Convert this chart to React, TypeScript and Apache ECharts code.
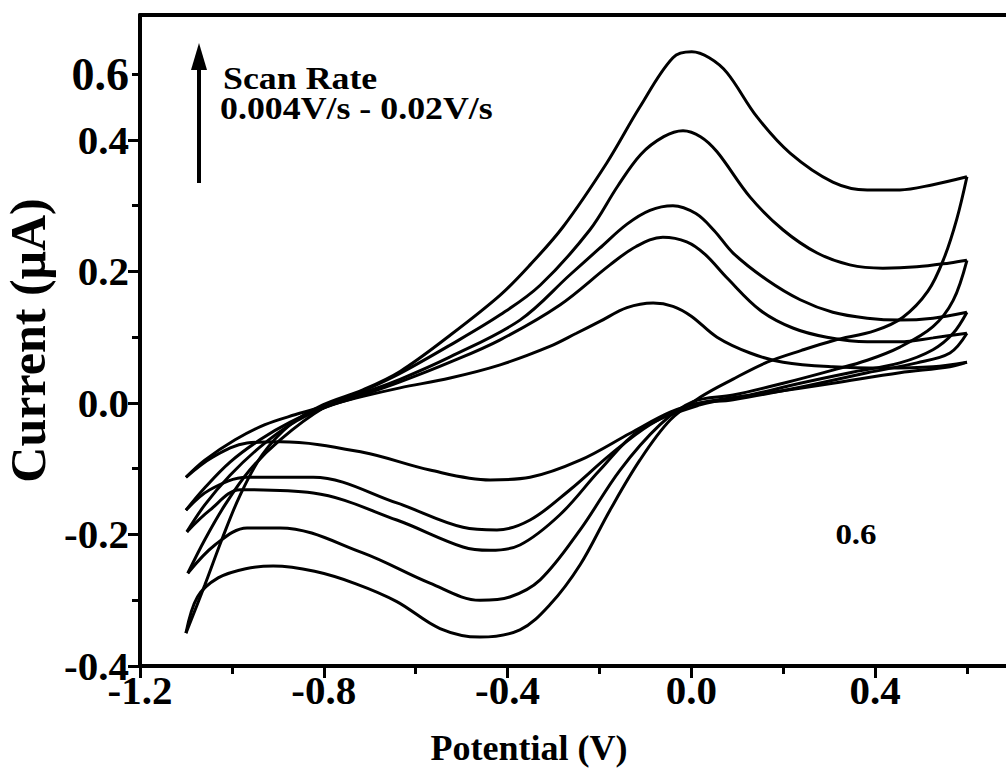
import React, { useEffect, useRef } from "react";
import * as echarts from "echarts";

// Scan rates (0.004 V/s ... 0.02 V/s), smallest loop first
const scanNames = ["scan 1", "scan 2", "scan 3", "scan 4", "scan 5"];

// forward (anodic) branches, potential (V) vs current (µA)
const fwd1 = [[-1.10,-0.113],[-1.059,-0.087],[-0.993,-0.056],[-0.928,-0.033],[-0.863,-0.018],[-0.802,-0.006],[-0.715,0.010],[-0.634,0.023],[-0.525,0.038],[-0.416,0.058],[-0.308,0.086],[-0.25,0.106],[-0.199,0.124],[-0.14,0.145],[-0.083,0.152],[-0.04,0.147],[0.0,0.132],[0.056,0.100],[0.128,0.076],[0.200,0.062],[0.308,0.055],[0.417,0.053],[0.526,0.055],[0.600,0.062]];
const fwd2 = [[-1.10,-0.163],[-1.059,-0.129],[-1.004,-0.090],[-0.939,-0.056],[-0.873,-0.029],[-0.802,-0.008],[-0.715,0.012],[-0.634,0.032],[-0.525,0.062],[-0.416,0.096],[-0.286,0.149],[-0.177,0.210],[-0.12,0.238],[-0.062,0.252],[-0.01,0.245],[0.03,0.226],[0.078,0.190],[0.150,0.141],[0.221,0.114],[0.295,0.100],[0.383,0.093],[0.454,0.093],[0.526,0.099],[0.600,0.106]];
const fwd3 = [[-1.098,-0.196],[-1.059,-0.155],[-1.004,-0.110],[-0.939,-0.067],[-0.873,-0.033],[-0.802,-0.008],[-0.715,0.015],[-0.634,0.036],[-0.525,0.070],[-0.373,0.126],[-0.264,0.195],[-0.20,0.235],[-0.14,0.272],[-0.09,0.293],[-0.040,0.300],[0.01,0.288],[0.05,0.262],[0.091,0.228],[0.165,0.187],[0.237,0.157],[0.308,0.138],[0.383,0.129],[0.454,0.126],[0.526,0.129],[0.600,0.138]];
const fwd4 = [[-1.096,-0.259],[-1.059,-0.208],[-1.015,-0.155],[-0.961,-0.102],[-0.895,-0.056],[-0.802,-0.008],[-0.715,0.018],[-0.634,0.045],[-0.525,0.088],[-0.416,0.134],[-0.329,0.179],[-0.221,0.263],[-0.16,0.330],[-0.11,0.378],[-0.06,0.405],[-0.018,0.414],[0.020,0.405],[0.056,0.382],[0.128,0.313],[0.200,0.263],[0.274,0.228],[0.345,0.210],[0.417,0.205],[0.491,0.207],[0.563,0.213],[0.600,0.217]];
const fwd5 = [[-1.10,-0.350],[-1.059,-0.277],[-1.022,-0.208],[-0.982,-0.140],[-0.934,-0.079],[-0.873,-0.033],[-0.802,-0.003],[-0.715,0.020],[-0.634,0.048],[-0.525,0.103],[-0.416,0.164],[-0.351,0.210],[-0.279,0.268],[-0.184,0.365],[-0.112,0.450],[-0.040,0.525],[0.001,0.534],[0.039,0.525],[0.078,0.502],[0.143,0.435],[0.215,0.380],[0.308,0.336],[0.383,0.324],[0.454,0.324],[0.526,0.332],[0.600,0.344]];

// reverse (cathodic) branches
const rev1 = [[0.600,0.062],[0.563,0.055],[0.454,0.046],[0.308,0.030],[0.165,0.015],[0.019,0.000],[-0.046,-0.014],[-0.133,-0.046],[-0.242,-0.087],[-0.351,-0.113],[-0.438,-0.117],[-0.569,-0.102],[-0.715,-0.075],[-0.895,-0.059],[-0.967,-0.061],[-1.041,-0.082],[-1.10,-0.113]];
const rev2 = [[0.600,0.106],[0.563,0.076],[0.491,0.061],[0.383,0.046],[0.237,0.024],[0.091,0.005],[0.0,-0.003],[-0.090,-0.033],[-0.177,-0.079],[-0.264,-0.132],[-0.351,-0.178],[-0.423,-0.193],[-0.497,-0.189],[-0.641,-0.152],[-0.823,-0.113],[-0.967,-0.113],[-1.048,-0.132],[-1.10,-0.163]];
const rev3 = [[0.600,0.138],[0.570,0.106],[0.526,0.081],[0.454,0.061],[0.345,0.046],[0.237,0.030],[0.128,0.012],[0.019,-0.003],[-0.112,-0.041],[-0.199,-0.102],[-0.286,-0.170],[-0.373,-0.216],[-0.438,-0.224],[-0.497,-0.219],[-0.641,-0.178],[-0.823,-0.137],[-0.982,-0.132],[-1.048,-0.163],[-1.098,-0.196]];
const rev4 = [[0.600,0.217],[0.570,0.156],[0.526,0.116],[0.454,0.085],[0.383,0.065],[0.308,0.050],[0.200,0.030],[0.091,0.012],[0.004,0.002],[-0.068,-0.033],[-0.155,-0.102],[-0.242,-0.193],[-0.329,-0.269],[-0.395,-0.295],[-0.460,-0.300],[-0.569,-0.274],[-0.715,-0.228],[-0.895,-0.190],[-0.967,-0.190],[-1.037,-0.216],[-1.096,-0.259]];
const rev5 = [[0.600,0.344],[0.578,0.280],[0.550,0.220],[0.515,0.170],[0.460,0.130],[0.400,0.110],[0.310,0.095],[0.240,0.080],[0.165,0.062],[0.090,0.036],[0.020,0.009],[-0.046,-0.026],[-0.112,-0.087],[-0.177,-0.163],[-0.242,-0.246],[-0.308,-0.307],[-0.373,-0.345],[-0.460,-0.356],[-0.547,-0.343],[-0.641,-0.302],[-0.73,-0.275],[-0.82,-0.256],[-0.91,-0.248],[-0.97,-0.252],[-1.03,-0.266],[-1.075,-0.295],[-1.10,-0.350]];

const forwardBranches = [fwd1, fwd2, fwd3, fwd4, fwd5];
const reverseBranches = [rev1, rev2, rev3, rev4, rev5];

// axis ticks and labels
const xMajorTicks = [-1.2, -0.8, -0.4, 0, 0.4];
const xMinorTicks = [-1.0, -0.6, -0.2, 0.2, 0.6];
const yMajorTicks = [-0.4, -0.2, 0, 0.2, 0.4];
const yMinorTicks = [-0.3, -0.1, 0.1, 0.3, 0.5];
const yLabelValues = [-0.4, -0.2, 0, 0.2, 0.4, 0.5];
const yLabelTexts = ["-0.4", "-0.2", "0.0", "0.2", "0.4", "0.6"];

const annotationTitle = "Scan Rate";
const annotationRange = "0.004V/s - 0.02V/s";
const strayLabel = "0.6";

const FONT = '"Liberation Serif", "Times New Roman", serif';
const X_MIN = -1.2;
const X_MAX = 0.685;
const Y_MIN = -0.4;
const Y_MAX = 0.59;

export default function App() {
  const ref = useRef<HTMLDivElement>(null);
  useEffect(() => {
    if (!ref.current) return;
    const chart = echarts.init(ref.current, undefined, { renderer: "svg" });
    const lineStyle = { color: "#000", width: 3 };
    const series: any[] = [];
    const addBranch = (d: number[][], name: string) =>
      series.push({
        name,
        type: "line",
        data: d,
        showSymbol: false,
        symbol: "none",
        smooth: 0.35,
        lineStyle,
        xAxisIndex: 0,
        yAxisIndex: 0,
      });
    forwardBranches.forEach((d, i) => addBranch(d, scanNames[i] + " forward"));
    reverseBranches.forEach((d, i) => addBranch(d, scanNames[i] + " reverse"));

    const tickLine = { color: "#000", width: 3 };
    const axisLineStyle = { color: "#000", width: 4 };

    const option: any = {
      animation: false,
      backgroundColor: "#fff",
      grid: {
        left: 140,
        right: 0,
        top: 15,
        bottom: 108,
        show: false,
        containLabel: false,
        outerBoundsMode: "none",
      },
      xAxis: [
        {
          type: "value",
          min: X_MIN,
          max: X_MAX,
          interval: 0.4,
          position: "bottom",
          axisLine: { show: true, onZero: false, lineStyle: axisLineStyle },
          axisTick: { show: true, length: 12, customValues: xMajorTicks, lineStyle: tickLine },
          splitLine: { show: false },
          axisLabel: {
            customValues: xMajorTicks,
            margin: 10,
            color: "#000",
            fontFamily: FONT,
            fontWeight: "bold",
            fontSize: 41,
            lineHeight: 28,
            formatter: (v: number) => v.toFixed(1),
          },
          name: "Potential (V)",
          nameLocation: "middle",
          nameGap: 64,
          nameTextStyle: {
            color: "#000",
            fontFamily: FONT,
            fontWeight: "bold",
            fontSize: 36,
            padding: [0, 88, 0, 0],
          },
        },
        {
          type: "value",
          min: X_MIN,
          max: X_MAX,
          position: "bottom",
          axisLine: { show: false, onZero: false },
          axisTick: { show: true, length: 8, customValues: xMinorTicks, lineStyle: tickLine },
          axisLabel: { show: false },
          splitLine: { show: false },
        },
        {
          type: "value",
          min: X_MIN,
          max: X_MAX,
          position: "top",
          axisLine: { show: true, onZero: false, lineStyle: axisLineStyle },
          axisTick: { show: false },
          axisLabel: { show: false },
          splitLine: { show: false },
        },
      ],
      yAxis: [
        {
          type: "value",
          min: Y_MIN,
          max: Y_MAX,
          interval: 0.2,
          position: "left",
          axisLine: { show: true, onZero: false, lineStyle: axisLineStyle },
          axisTick: { show: true, length: 12, customValues: yMajorTicks, lineStyle: tickLine },
          splitLine: { show: false },
          axisLabel: {
            customValues: yLabelValues,
            margin: 11,
            color: "#000",
            fontFamily: FONT,
            fontWeight: "bold",
            fontSize: 41,
            lineHeight: 20,
            formatter: (v: number) => {
              const idx = yLabelValues.findIndex((t) => Math.abs(t - v) < 1e-6);
              const txt = idx >= 0 ? yLabelTexts[idx] : "";
              return idx === yLabelValues.length - 1 ? "{big|" + txt + "}" : txt;
            },
            rich: {
              big: { fontFamily: FONT, fontWeight: "bold", fontSize: 46, lineHeight: 24, color: "#000" },
            },
          },
          name: "Current (\u03bcA)",
          nameLocation: "middle",
          nameGap: 84,
          nameTextStyle: {
            color: "#000",
            fontFamily: FONT,
            fontWeight: "bold",
            fontSize: 50,
          },
        },
        {
          type: "value",
          min: Y_MIN,
          max: Y_MAX,
          position: "left",
          axisLine: { show: false, onZero: false },
          axisTick: { show: true, length: 8, customValues: yMinorTicks, lineStyle: tickLine },
          axisLabel: { show: false },
          splitLine: { show: false },
        },
      ],
      series,
      graphic: [
        {
          type: "line",
          shape: { x1: 199, y1: 183, x2: 199, y2: 62 },
          style: { stroke: "#000", lineWidth: 4 },
        },
        {
          type: "polygon",
          shape: { points: [[199, 43], [191, 70], [207, 70]] },
          style: { fill: "#000" },
        },
        {
          type: "text",
          x: 223,
          y: 78,
          scaleX: 1.12,
          style: {
            text: annotationTitle,
            fill: "#000",
            font: 'bold 32px "Liberation Serif", serif',
            align: "left",
            verticalAlign: "middle",
          },
        },
        {
          type: "text",
          x: 220,
          y: 108,
          scaleX: 1.12,
          style: {
            text: annotationRange,
            fill: "#000",
            font: 'bold 32px "Liberation Serif", serif',
            align: "left",
            verticalAlign: "middle",
          },
        },
        {
          type: "text",
          x: 856,
          y: 534,
          scaleX: 1.1,
          style: {
            text: strayLabel,
            fill: "#000",
            font: 'bold 30px "Liberation Serif", serif',
            align: "center",
            verticalAlign: "middle",
          },
        },
      ],
    };
    chart.setOption(option);
    return () => chart.dispose();
  }, []);
  return (
    <div
      ref={ref}
      style={{ position: "absolute", left: 0, top: 0, width: 1006, height: 774 }}
    />
  );
}
